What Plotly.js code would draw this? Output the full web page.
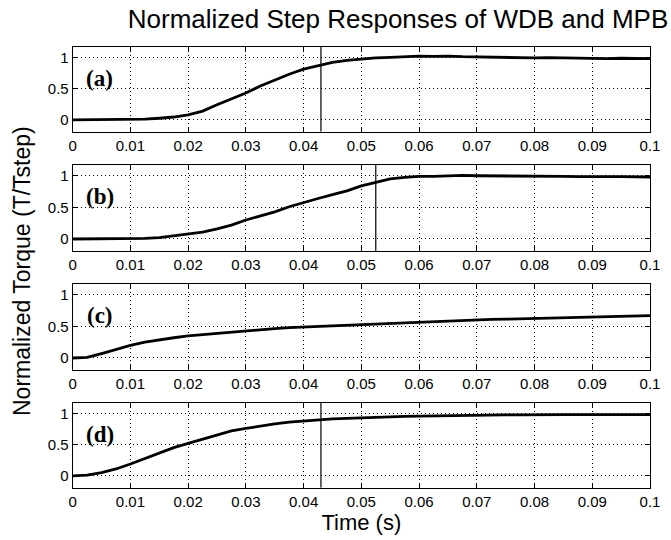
<!DOCTYPE html>
<html><head><meta charset="utf-8">
<script src="https://cdn.plot.ly/plotly-3.0.1.min.js"></script>
<style>html,body{margin:0;padding:0;background:#fff}#chart{width:671px;height:540px}</style>
</head><body><div id="chart"></div>
<script>
const time = [0,0.0025,0.005,0.0075,0.01,0.0125,0.015,0.0175,0.02,0.0225,0.025,0.0275,0.03,0.0325,0.035,0.0375,0.04,0.0425,0.045,0.0475,0.05,0.0525,0.055,0.0575,0.06,0.0625,0.065,0.0675,0.07,0.0725,0.075,0.0775,0.08,0.0825,0.085,0.0875,0.09,0.0925,0.095,0.0975,0.1];
const respA = [0,0,0,0,0.005,0.01,0.025,0.045,0.08,0.14,0.24,0.33,0.43,0.54,0.64,0.73,0.81,0.87,0.92,0.95,0.975,0.99,1.0,1.01,1.02,1.015,1.02,1.01,1.005,1.0,1.005,0.995,0.99,0.995,0.99,0.985,0.99,0.98,0.985,0.98,0.98];
const respB = [0,0,0,0,0.005,0.01,0.02,0.05,0.08,0.11,0.16,0.22,0.30,0.36,0.43,0.51,0.58,0.64,0.70,0.76,0.84,0.90,0.95,0.975,0.99,0.99,1.0,1.005,1.0,1.0,0.995,0.995,0.99,0.99,0.99,0.985,0.99,0.985,0.985,0.98,0.98];
const respC = [0,0.01,0.07,0.14,0.20,0.25,0.29,0.32,0.35,0.37,0.39,0.415,0.43,0.45,0.465,0.48,0.49,0.50,0.51,0.52,0.525,0.535,0.545,0.555,0.565,0.575,0.585,0.595,0.60,0.61,0.615,0.62,0.63,0.635,0.64,0.645,0.65,0.655,0.66,0.665,0.67];
const respD = [0,0.01,0.05,0.11,0.19,0.28,0.37,0.45,0.52,0.59,0.66,0.72,0.76,0.80,0.83,0.86,0.88,0.90,0.91,0.92,0.93,0.94,0.945,0.95,0.955,0.96,0.965,0.965,0.97,0.97,0.975,0.975,0.98,0.98,0.98,0.98,0.98,0.98,0.98,0.98,0.98];
const markerTimes = [0.043, 0.0525, null, 0.043];
const panelLabels = ['(a)','(b)','(c)','(d)'];
const xTickVals = [0,0.01,0.02,0.03,0.04,0.05,0.06,0.07,0.08,0.09,0.1];
const xTickText = ['0','0.01','0.02','0.03','0.04','0.05','0.06','0.07','0.08','0.09','0.1'];
const yTickVals = [0,0.5,1];
const yTickText = ['0','0.5','1'];
const yRange = [-0.19, 1.17];

const series = [respA, respB, respC, respD];
const W = 671, H = 540;
const xDom = [72.7/W, 650/W];
const panelPx = [[46.7,131.7],[165,251],[284,370],[402.7,487.7]];

const traces = [];
const layout = {
  width: W, height: H,
  margin: {l:0, r:0, t:0, b:0},
  paper_bgcolor: '#fff', plot_bgcolor: '#fff',
  showlegend: false,
  font: {family: 'Liberation Sans, Arial, sans-serif', size: 15, color: '#000'},
  title: {text: 'Normalized Step Responses of WDB and MPB', x: 398/W, xanchor: 'center', xref: 'paper',
          y: 1 - 19/H, yref: 'container', yanchor: 'middle',
          font: {family: 'Liberation Sans, Arial, sans-serif', size: 26, color: '#000'}},
  annotations: [], shapes: []
};

series.forEach((s, i) => {
  const n = i === 0 ? '' : String(i + 1);
  const xa = 'x' + n, ya = 'y' + n;
  traces.push({x: time, y: s, xaxis: xa, yaxis: ya, type: 'scatter', mode: 'lines',
    line: {color: '#000', width: 2.8}, hoverinfo: 'skip'});
  if (markerTimes[i] !== null) {
    traces.push({x: [markerTimes[i], markerTimes[i]], y: yRange, xaxis: xa, yaxis: ya,
      type: 'scatter', mode: 'lines', line: {color: '#000', width: 1.2}, hoverinfo: 'skip'});
  }
  const [top, bot] = panelPx[i];
  layout['xaxis' + n] = {
    domain: xDom, anchor: ya, range: [0, 0.1],
    tickvals: xTickVals, ticktext: xTickText,
    ticks: 'inside', ticklen: 5, tickcolor: '#000', mirror: 'allticks',
    showline: true, linecolor: '#000', linewidth: 1,
    showgrid: true, gridcolor: '#000', griddash: '1px,3px', gridwidth: 1,
    zeroline: false, fixedrange: true, automargin: false,
    tickfont: {size: 15, color: '#000'}
  };
  layout['yaxis' + n] = {
    domain: [(H - bot)/H, (H - top)/H], anchor: xa, range: yRange,
    tickvals: yTickVals, ticktext: yTickText,
    ticks: 'inside', ticklen: 5, tickcolor: '#000', mirror: 'allticks',
    showline: true, linecolor: '#000', linewidth: 1,
    showgrid: true, gridcolor: '#000', griddash: '1px,3px', gridwidth: 1,
    zeroline: false, fixedrange: true, automargin: false,
    tickfont: {size: 15, color: '#000'}
  };
  layout.annotations.push({text: panelLabels[i], xref: xa + ' domain', yref: ya + ' domain',
    x: 0.047, y: 0.63, xanchor: 'center', yanchor: 'middle', showarrow: false,
    font: {family: 'Liberation Serif, Times New Roman, serif', size: 23, color: '#000', weight: 'bold'}});
});

layout.xaxis4.title = {text: 'Time (s)', standoff: 5, font: {size: 22, color: '#000'}};
layout.annotations.push({text: 'Normalized Torque (T/Tstep)', xref: 'paper', yref: 'paper',
  x: 22/W, y: 1 - 271/H, textangle: -90, showarrow: false, xanchor: 'center', yanchor: 'middle',
  font: {size: 23, color: '#000'}});

Plotly.newPlot('chart', traces, layout, {displayModeBar: false, staticPlot: true});
</script></body></html>
